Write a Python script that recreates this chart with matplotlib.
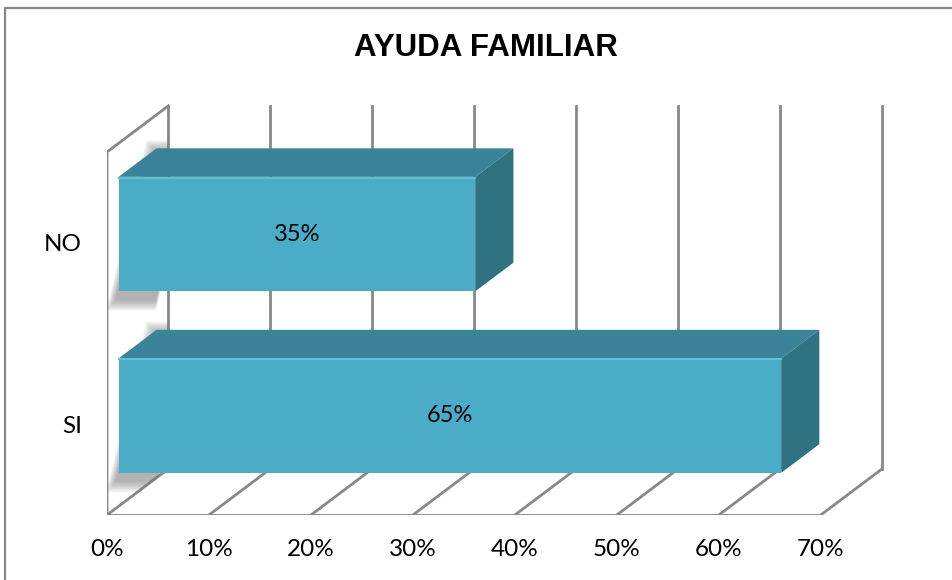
import matplotlib
matplotlib.use("Agg")
import matplotlib.pyplot as plt
from matplotlib.patches import Polygon
from matplotlib.lines import Line2D

# data
categories = ["SI", "NO"]
values = [65, 35]
value_labels = ["65%", "35%"]
x_ticks = [0, 10, 20, 30, 40, 50, 60, 70]
x_tick_labels = ["0%", "10%", "20%", "30%", "40%", "50%", "60%", "70%"]
title = "AYUDA FAMILIAR"

# fake 3d geometry (data units)
DX = 6.0        # depth offset along x (percent units)
DY = 0.2534     # depth offset along y (category units)
D0, D1 = 0.19, 0.81   # bar depth start / end
BAR_H = 0.63

FRONT = "#4aacc6"
TOP = "#3a8398"
SIDE = "#2f7383"
GRID = "#888888"


def proj(x, y, d):
    return (x + d * DX, y + d * DY)


fig = plt.figure(figsize=(9.53, 5.80), dpi=100)
ax = fig.add_axes([107 / 953, 65 / 580, 779 / 953, 412 / 580])
ax.set_xlim(0, 76.4)
ax.set_ylim(-0.5, 1.77)
for s in ax.spines.values():
    s.set_visible(False)

y_lo, y_hi = -0.5, 1.5

# back wall gridlines + floor diagonals
for t in x_ticks:
    ax.add_line(Line2D(*zip(proj(t, y_lo, 1), proj(t, y_hi, 1)),
                       color=GRID, lw=2, zorder=1))
    ax.add_line(Line2D(*zip(proj(t, y_lo, 0), proj(t, y_lo, 1)),
                       color=GRID, lw=2, zorder=1))

# floor front edge
ax.add_line(Line2D([0, 70], [y_lo, y_lo], color=GRID, lw=2, zorder=1))

# left wall outline
ax.add_line(Line2D([0, 0, DX], [y_lo, y_hi, y_hi + DY],
                   color=GRID, lw=2, zorder=1))

# left wall region, used to clip the bar shadows
wall = Polygon([proj(0, y_lo, 0), proj(0, y_hi, 0),
                proj(0, y_hi, 1), proj(0, y_lo, 1)],
               closed=True, fc="none", ec="none", transform=ax.transData)
ax.add_patch(wall)

# bars
for i, (v, lab) in enumerate(zip(values, value_labels)):
    yb, yt = i - BAR_H / 2, i + BAR_H / 2

    # soft drop shadow falling on the left wall
    for k in range(8):
        gx = 0.12 * k
        gy = 0.008 * k
        sh = [proj(-gx, yb - 0.03 - gy, D0), proj(4, yb - 0.03 - gy, D0),
              proj(4, yt + gy, D1 + 0.03), proj(-gx, yt + gy, D1 + 0.03)]
        sh = [(px - 0.35, py - 0.02) for px, py in sh]
        p = Polygon(sh, closed=True, color="#6f6f6f", alpha=0.085,
                    lw=0, zorder=2)
        ax.add_patch(p)
        p.set_clip_path(wall)

    top = [proj(0, yt, D0), proj(v, yt, D0), proj(v, yt, D1), proj(0, yt, D1)]
    side = [proj(v, yb, D0), proj(v, yt, D0), proj(v, yt, D1), proj(v, yb, D1)]
    front = [proj(0, yb, D0), proj(v, yb, D0), proj(v, yt, D0), proj(0, yt, D0)]
    ax.add_patch(Polygon(top, closed=True, fc=TOP, ec="none", zorder=3))
    ax.add_patch(Polygon(side, closed=True, fc=SIDE, ec="none", zorder=3))
    ax.add_patch(Polygon(front, closed=True, fc=FRONT, ec="none", zorder=4))
    # light highlight on top edge of front face
    ax.add_line(Line2D(*zip(proj(0, yt - 0.006, D0), proj(v, yt - 0.006, D0)),
                       color="#5fc0d8", lw=1.5, zorder=5))

    cx, cy = proj(v / 2, i, D0)
    ax.text(cx, cy, lab, ha="center", va="center", fontsize=17,
            family="Lato", color="#000000", zorder=6)

# axis labels
ax.set_xticks(x_ticks)
ax.set_xticklabels(x_tick_labels, fontsize=17.5, family="Lato")
ax.set_yticks(range(len(categories)))
ax.set_yticklabels(categories, fontsize=17.5, family="Lato")
ax.tick_params(axis="x", length=0, pad=17)
ax.tick_params(axis="y", length=0, pad=18)

fig.text(486 / 953, 1 - 48 / 580, title, ha="center", va="center",
         fontsize=22.5, fontweight="bold", family="Liberation Sans")

# chart border (only top and left are inside the image)
fig.add_artist(Line2D([5 / 953, 5 / 953, 1], [0, 1 - 8 / 580, 1 - 8 / 580],
                      transform=fig.transFigure, color="#878787", lw=1.6))

fig.savefig("out.png", dpi=100)
